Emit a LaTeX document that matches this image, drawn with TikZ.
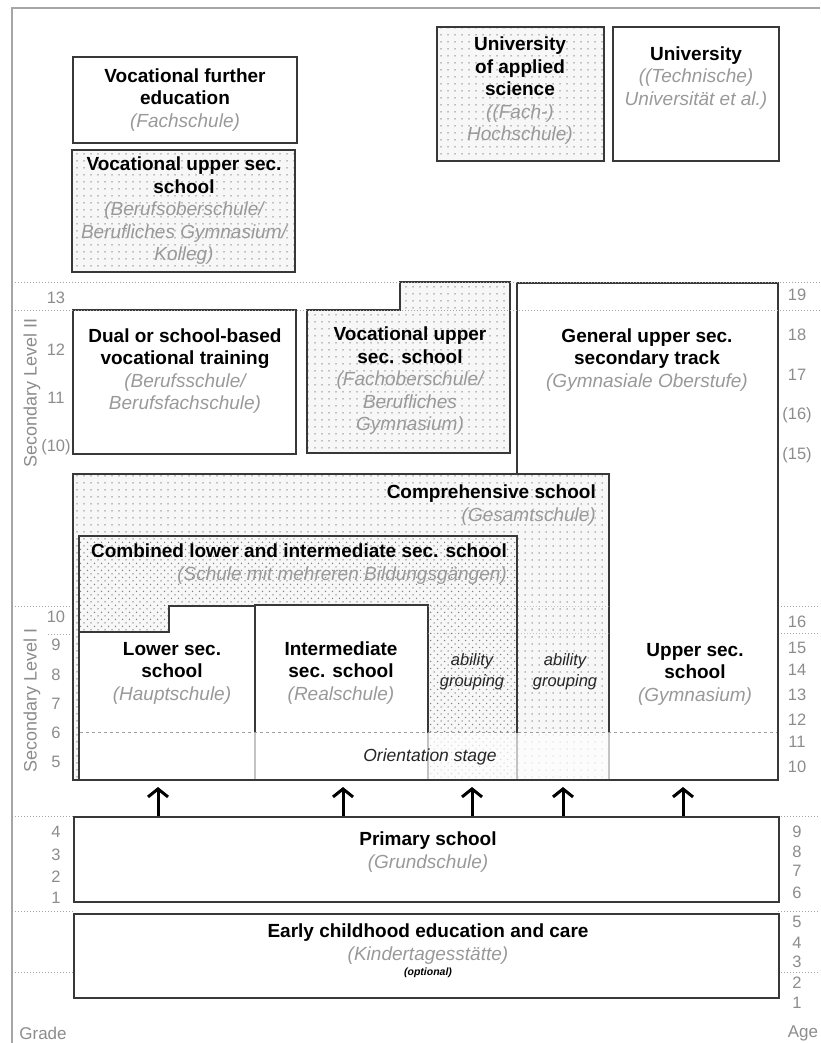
\documentclass[tikz,border=0pt]{standalone}
\usepackage{fontspec}
\setmainfont{Liberation Sans}
\usepackage{tikz}
\usetikzlibrary{positioning,arrows.meta,patterns.meta}
\definecolor{subgray}{gray}{0.6}
\definecolor{numgray}{gray}{0.55}
\definecolor{edgegray}{gray}{0.22}
\newcommand{\gname}[1]{{\mdseries\itshape\color{subgray}#1}}
\tikzset{
  school/.style={draw=edgegray, line width=1.6pt},
  dotbox/.style={preaction={fill=black!3}, pattern={Dots[distance=7pt,radius=0.75pt]}, pattern color=black!50},
  densedots/.style={pattern={Dots[distance=7pt,radius=0.75pt,xshift=3.5pt,yshift=3.5pt]}, pattern color=black!50},
  title/.style={font=\fontsize{19}{22.5}\selectfont\bfseries, align=center, inner sep=0pt},
  ability/.style={font=\fontsize{16.5}{21}\selectfont\itshape, align=center, text=black!85, inner sep=0pt},
  num/.style={font=\fontsize{16.5}{18}\selectfont, text=numgray, inner sep=0pt},
  side/.style={font=\fontsize{18}{20}\selectfont, text=numgray, inner sep=0pt, rotate=90},
  level/.style={draw=gray!70, dotted, line width=1pt},
  up/.style={-{Straight Barb[length=8pt,width=20pt]}, line width=3pt},
}

\begin{document}
\begin{tikzpicture}[x=1pt, y=-1pt]
  \useasboundingbox (0,0) rectangle (820,1043);
  \draw[gray!70, line width=1.8pt] (12,1043) -- (12,8) -- (820,8);

  % grade and age rulings
  \foreach \y in {606,816,911,972} {
    \draw[level] (12,\y) -- (73,\y);
    \draw[level] (778,\y) -- (820,\y);
  }
  \draw[level] (48,634) -- (73,634);
  \draw[level] (778,633) -- (820,633);

  % tertiary and further education
  \draw[school] (73,57) rectangle (297,143);
  \draw[school, dotbox] (72,150) rectangle (295,272);
  \draw[school, dotbox] (437,27) rectangle (604,161);
  \draw[school] (613,27) rectangle (779,161);

  % secondary level II
  \draw[school] (73,310) rectangle (296,454);
  \draw[school, dotbox] (307,310) -- (400,310) -- (400,282) -- (510,282) -- (510,453) -- (307,453) -- cycle;
  \draw[school, fill=white] (517,283) -- (778,283) -- (778,780) -- (609,780) -- (609,474) -- (517,474) -- cycle;

  % secondary level I
  \draw[school, dotbox] (73,474) rectangle (609,780);
  \draw[school, densedots] (79,536) rectangle (517,780);
  \draw[school, fill=white] (79,780) -- (79,632) -- (169,632) -- (169,606) -- (255,606) -- (255,780) -- cycle;
  \draw[school, fill=white] (255,605) rectangle (428,780);
  \draw[level, opacity=0.6] (428,606) -- (609,606);
  \draw[level, opacity=0.6] (428,633) -- (609,633);
  \fill[white, fill opacity=0.7] (80.5,733) rectangle (777,779);
  \draw[gray!75, dashed, line width=0.9pt] (80,732) -- (777,732);

  \draw[level] (12,282) -- (820,282);
  \draw[level] (12,310) -- (820,310);

  % primary and early childhood
  \node[school, minimum width=705pt, minimum height=85pt, inner sep=0pt, anchor=north west] (prim) at (73,816) {};
  \node[school, minimum width=705pt, minimum height=84pt, inner sep=0pt, anchor=north west] (early) at (73,913) {};

  \foreach \x [count=\i] in {158,343,472,563,683} {
    \coordinate (tip\i) at (\x,787);
    \draw[up] (prim.north -| tip\i) -- (tip\i);
  }

  \node[title] (further) at (185,100) {Vocational further\\education\\\gname{(Fachschule)}};
  \node[title] (berufsober) at (184,211) {Vocational upper sec.\\school\\\gname{(Berufsoberschule/}\\\gname{Berufliches Gymnasium/}\\\gname{Kolleg)}};
  \node[title] (fh) at (520,91) {University\\of applied\\science\\\gname{((Fach-)}\\\gname{Hochschule)}};
  \node[title] (uni) at (696,78) {University\\\gname{((Technische)}\\\gname{Universität et al.)}};
  \node[title] (dual) at (185,371) {Dual or school-based\\vocational training\\\gname{(Berufsschule/}\\\gname{Berufsfachschule)}};
  \node[title] (fos) at (410,381) {Vocational upper\\sec. school\\\gname{(Fachoberschule/}\\\gname{Berufliches}\\\gname{Gymnasium)}};
  \node[title] (oberstufe) at (647,360) {General upper sec.\\secondary track\\\gname{(Gymnasiale Oberstufe)}};
  \node[title, align=right, anchor=east] (gesamt) at (596,505) {Comprehensive school\\\gname{(Gesamtschule)}};
  \node[title, align=right, anchor=east] (combined) at (507,564) {Combined lower and intermediate sec. school\\\gname{(Schule mit mehreren Bildungsgängen)}};
  \node[title] (haupt) at (172,673) {Lower sec.\\school\\\gname{(Hauptschule)}};
  \node[title] (real) at (341,673) {Intermediate\\sec. school\\\gname{(Realschule)}};
  \node[ability] (ability1) at (472,672) {ability\\grouping};
  \node[ability] (ability2) at (565,672) {ability\\grouping};
  \node[title] (gym) at (695,674) {Upper sec.\\school\\\gname{(Gymnasium)}};
  \node[ability, font=\fontsize{17.5}{21}\selectfont\itshape] (orient) at (430,757) {Orientation stage};
  \node[title] (primtext) at (428,852) {Primary school\\\gname{(Grundschule)}};
  \node[title] (earlytext) at (428,944) {Early childhood education and care\\\gname{(Kindertagesstätte)}};
  \node[font=\fontsize{10.5}{12}\selectfont\bfseries\itshape, inner sep=0pt] (optional) at (428,973) {(optional)};

  \node[side] (sek2) at (32,393) {Secondary Level II};
  \node[side] (sek1) at (32,700) {Secondary Level I};

  \foreach \n/\y in {13/298,12/350,11/398,{(10)}/447,10/617,9/645,8/675,7/704,6/733,5/762,4/832,3/855,2/877,1/898}
    \node[num] (g\y) at (56,\y) {\n};
  \foreach \n/\y in {19/295,18/335,17/375,{(16)}/415,{(15)}/455,16/622,15/648,14/670,13/695,12/720,11/742,10/767,9/832,8/852,7/871,6/893,5/922,4/943,3/962,2/983,1/1003}
    \node[num] (a\y) at (797,\y) {\n};

  \node[num, font=\fontsize{17}{19}\selectfont] (grade) at (43,1033) {Grade};
  \node[num, font=\fontsize{17}{19}\selectfont] (age) at (803,1033) {Age};
\end{tikzpicture}
\end{document}
